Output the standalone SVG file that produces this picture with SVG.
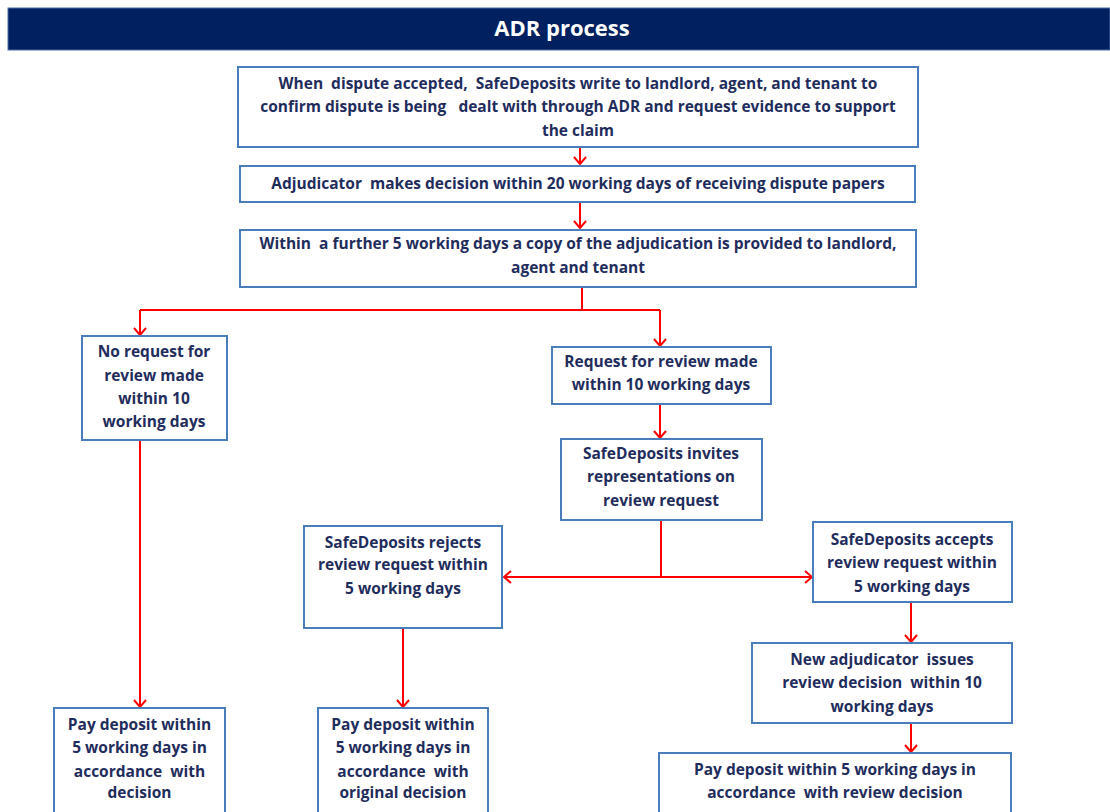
<svg xmlns="http://www.w3.org/2000/svg" width="1110" height="812" viewBox="0 0 1110 812">
<style>
.box{fill:#fff;stroke:#4a7ebb;stroke-width:2}
.t{font-family:"Open Sans","Liberation Sans",Arial,sans-serif;font-weight:bold;font-size:15.5px;fill:#1f2d5c;text-anchor:middle;white-space:pre}
.c{fill:none;stroke:#ff0000;stroke-width:2}
</style>
<defs>
<marker id="ah" markerUnits="userSpaceOnUse" markerWidth="16" markerHeight="16" refX="8" refY="8" orient="auto">
<path d="M1,2 L8,8 L1,14" fill="none" stroke="#ff0000" stroke-width="2"/>
</marker>
</defs>
<rect width="1110" height="812" fill="#fff"/>
<g id="header">
<rect x="8" y="8" width="1102" height="42" fill="#002060" stroke="#4a6fa8" stroke-width="1"/>
<text x="562" y="36" font-family="Open Sans,Liberation Sans,sans-serif" font-weight="bold" font-size="22" fill="#fff" text-anchor="middle">ADR process</text>
</g>
<g id="connectors">
<path class="c" d="M580,147 V164" marker-end="url(#ah)"/>
<path class="c" d="M580,202 V228" marker-end="url(#ah)"/>
<path class="c" d="M582,287 V310 M140,310 H660"/>
<path class="c" d="M140,310 V335" marker-end="url(#ah)"/>
<path class="c" d="M660,310 V346" marker-end="url(#ah)"/>
<path class="c" d="M660,404 V438" marker-end="url(#ah)"/>
<path class="c" d="M661,520 V577"/>
<path class="c" d="M661,577 H504" marker-end="url(#ah)"/>
<path class="c" d="M661,577 H812" marker-end="url(#ah)"/>
<path class="c" d="M140,440 V707" marker-end="url(#ah)"/>
<path class="c" d="M403,628 V707" marker-end="url(#ah)"/>
<path class="c" d="M911,602 V642" marker-end="url(#ah)"/>
<path class="c" d="M911,723 V752" marker-end="url(#ah)"/>
</g>
<g id="n1"><rect class="box" x="238" y="67" width="680" height="80"/>
<text class="t" x="578" y="89">When  dispute accepted,  SafeDeposits write to landlord, agent, and tenant to</text>
<text class="t" x="578" y="112">confirm dispute is being   dealt with through ADR and request evidence to support</text>
<text class="t" x="578" y="136">the claim</text></g>
<g id="n2"><rect class="box" x="240" y="166" width="675" height="36"/>
<text class="t" x="578" y="189">Adjudicator  makes decision within 20 working days of receiving dispute papers</text></g>
<g id="n3"><rect class="box" x="240" y="230" width="676" height="57"/>
<text class="t" x="578" y="249">Within  a further 5 working days a copy of the adjudication is provided to landlord,</text>
<text class="t" x="578" y="273">agent and tenant</text></g>
<g id="n4"><rect class="box" x="82" y="336" width="145" height="104"/>
<text class="t" x="154" y="357">No request for</text>
<text class="t" x="154" y="381">review made</text>
<text class="t" x="154" y="404">within 10</text>
<text class="t" x="154" y="427">working days</text></g>
<g id="n5"><rect class="box" x="552" y="347" width="219" height="57"/>
<text class="t" x="661" y="367">Request for review made</text>
<text class="t" x="661" y="390">within 10 working days</text></g>
<g id="n6"><rect class="box" x="561" y="439" width="201" height="81"/>
<text class="t" x="661" y="459">SafeDeposits invites</text>
<text class="t" x="661" y="482">representations on</text>
<text class="t" x="661" y="506">review request</text></g>
<g id="n7"><rect class="box" x="304" y="526" width="198" height="102"/>
<text class="t" x="403" y="548">SafeDeposits rejects</text>
<text class="t" x="403" y="570">review request within</text>
<text class="t" x="403" y="594">5 working days</text></g>
<g id="n8"><rect class="box" x="813" y="522" width="199" height="80"/>
<text class="t" x="912" y="545">SafeDeposits accepts</text>
<text class="t" x="912" y="568">review request within</text>
<text class="t" x="912" y="592">5 working days</text></g>
<g id="n9"><rect class="box" x="752" y="643" width="260" height="80"/>
<text class="t" x="882" y="665">New adjudicator  issues</text>
<text class="t" x="882" y="688">review decision  within 10</text>
<text class="t" x="882" y="712">working days</text></g>
<g id="n10"><rect class="box" x="659" y="753" width="352" height="60"/>
<text class="t" x="835" y="775">Pay deposit within 5 working days in</text>
<text class="t" x="835" y="798">accordance  with review decision</text></g>
<g id="n11"><rect class="box" x="54" y="708" width="171" height="106"/>
<text class="t" x="139.5" y="730">Pay deposit within</text>
<text class="t" x="139.5" y="753">5 working days in</text>
<text class="t" x="139.5" y="777">accordance  with</text>
<text class="t" x="139.5" y="798">decision</text></g>
<g id="n12"><rect class="box" x="318" y="708" width="170" height="106"/>
<text class="t" x="403" y="730">Pay deposit within</text>
<text class="t" x="403" y="753">5 working days in</text>
<text class="t" x="403" y="777">accordance  with</text>
<text class="t" x="403" y="798">original decision</text></g>
</svg>
